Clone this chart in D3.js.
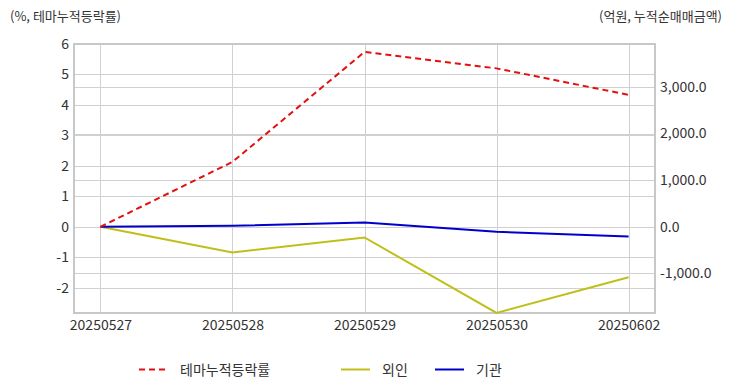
<!DOCTYPE html>
<html>
<head>
<meta charset="UTF-8" />
<script src="https://d3js.org/d3.v7.min.js"></script>
<style>
  body { margin: 0; background: #fff; }
  text { font-family: "Noto Sans CJK KR", "Noto Sans", sans-serif; fill: #333; }
</style>
</head>
<body>
<div id="chart"></div>
<script>
const dates = ["20250527", "20250528", "20250529", "20250530", "20250602"];
const themeRate = [0, 2.13, 5.74, 5.2, 4.33];      // left axis, %
const foreign = [0, -553, -230, -1847, -1084];     // right axis, 억원
const inst = [0, 22, 93, -108, -209];              // right axis, 억원
const leftTicks = [-2, -1, 0, 1, 2, 3, 4, 5, 6];
const rightTicks = [-1000, 0, 1000, 2000, 3000];

const W = 732, H = 392;
const m = { top: 44, right: 77, bottom: 79, left: 74 };
const pw = W - m.left - m.right, ph = H - m.top - m.bottom;

const svg = d3.select("#chart").append("svg").attr("width", W).attr("height", H);
const g = svg.append("g").attr("transform", `translate(${m.left},${m.top})`);

const x = d3.scalePoint().domain(dates).range([0, pw]).padding(0.2);
const yL = d3.scaleLinear().domain([-2.83, 6]).range([ph, 0]);
const yR = d3.scaleLinear().domain([-1850, 3920]).range([ph, 0]);

// grid
const grid = g.append("g").attr("stroke", "#d0d0d0").attr("stroke-width", 1);
grid.selectAll(".gl").data(leftTicks).join("line")
  .attr("x1", 0).attr("x2", pw)
  .attr("y1", d => Math.round(yL(d)) + 0.5).attr("y2", d => Math.round(yL(d)) + 0.5);
grid.selectAll(".gr").data(rightTicks).join("line")
  .attr("x1", 0).attr("x2", pw)
  .attr("y1", d => Math.round(yR(d)) + 0.5).attr("y2", d => Math.round(yR(d)) + 0.5);
grid.selectAll(".gx").data(dates).join("line")
  .attr("y1", 0).attr("y2", ph)
  .attr("x1", d => Math.round(x(d)) + 0.5).attr("x2", d => Math.round(x(d)) + 0.5);

g.append("rect").attr("width", pw).attr("height", ph)
  .attr("fill", "none").attr("stroke", "#c8c8c8").attr("stroke-width", 2);

// axes (plain hyphen for negatives, as in the original)
const fmtL = d => String(d);
const fmtR = d => d3.format(",.1f")(d).replace("−", "-");
const axL = g.append("g").call(d3.axisLeft(yL).tickValues(leftTicks).tickSize(0).tickPadding(5).tickFormat(fmtL));
const axR = g.append("g").attr("transform", `translate(${pw},0)`)
  .call(d3.axisRight(yR).tickValues(rightTicks).tickSize(0).tickPadding(5).tickFormat(fmtR));
const axX = g.append("g").attr("transform", `translate(0,${ph})`)
  .call(d3.axisBottom(x).tickSize(0).tickPadding(7));
[axL, axR, axX].forEach(a => {
  a.select(".domain").remove();
  a.selectAll("text").attr("font-size", 14).attr("fill", "#333")
    .attr("font-family", "'Noto Sans CJK KR', sans-serif");
});

// lines
const lineL = d3.line().x((d, i) => x(dates[i])).y(d => yL(d));
const lineR = d3.line().x((d, i) => x(dates[i])).y(d => yR(d));
g.append("path").datum(foreign).attr("d", lineR)
  .attr("fill", "none").attr("stroke", "#bfbf1a").attr("stroke-width", 2);
g.append("path").datum(inst).attr("d", lineR)
  .attr("fill", "none").attr("stroke", "#0000cc").attr("stroke-width", 2);
g.append("path").datum(themeRate).attr("d", lineL)
  .attr("fill", "none").attr("stroke", "#e31010").attr("stroke-width", 2)
  .attr("stroke-dasharray", "6,4");

// axis titles
svg.append("text").attr("x", 10).attr("y", 21).attr("font-size", 13).text("(%, 테마누적등락률)");
svg.append("text").attr("x", 722).attr("y", 21).attr("font-size", 13)
  .attr("text-anchor", "end").text("(억원, 누적순매매금액)");

// legend
const legend = [
  { name: "테마누적등락률", color: "#e31010", dash: "6,4", x: 139 },
  { name: "외인", color: "#bfbf1a", dash: null, x: 341 },
  { name: "기관", color: "#0000cc", dash: null, x: 435 }
];
const lg = svg.append("g").selectAll("g").data(legend).join("g")
  .attr("transform", d => `translate(${d.x},370)`);
lg.append("line").attr("x1", 0).attr("x2", 29).attr("y1", -0.5).attr("y2", -0.5)
  .attr("stroke", d => d.color).attr("stroke-width", 2)
  .attr("stroke-dasharray", d => d.dash);
lg.append("text").attr("x", 41).attr("y", 5).attr("font-size", 14).text(d => d.name);
</script>
</body>
</html>
